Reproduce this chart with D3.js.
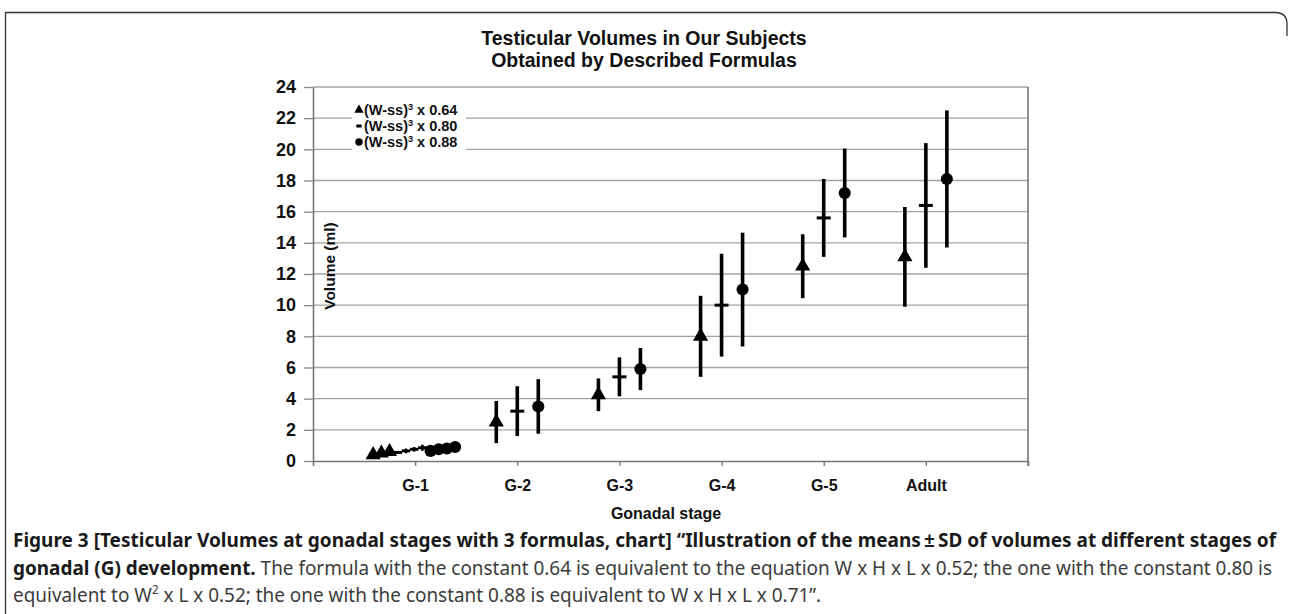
<!DOCTYPE html>
<html>
<head>
<meta charset="utf-8">
<script src="https://cdn.jsdelivr.net/npm/d3@7/dist/d3.min.js"></script>
<style>
  body { margin: 0; background: #fff; }
  .chart text { font-family: "Liberation Sans", Arial, sans-serif; }
  .caption text { font-family: "Noto Sans", "Open Sans", sans-serif; }
</style>
</head>
<body>
<div id="chart"></div>
<script>
// Stages on the x axis
var stages = ["G-1", "G-2", "G-3", "G-4", "G-5", "Adult"];
var formulas = ["0.64", "0.80", "0.88"];
var yTicks = [0, 2, 4, 6, 8, 10, 12, 14, 16, 18, 20, 22, 24];

// Means and SD for G-2 .. Adult, one array per formula
var mean064 = [2.5, 4.25, 8.0, 12.5, 13.1];
var sd064   = [1.35, 1.05, 2.6, 2.05, 3.2];
var mean080 = [3.2, 5.4, 10.0, 15.6, 16.4];
var sd080   = [1.6, 1.25, 3.3, 2.5, 4.0];
var mean088 = [3.5, 5.9, 11.0, 17.2, 18.1];
var sd088   = [1.75, 1.35, 3.65, 2.85, 4.4];

// G-1 is drawn as a row of small points (sub-groups)
var g1Mean064 = [0.4, 0.5, 0.6];
var g1Mean080 = [0.55, 0.65, 0.75, 0.85];
var g1Sd080   = [0.1, 0.15, 0.15, 0.2];
var g1Mean088 = [0.65, 0.75, 0.8, 0.9];

var W = 1292, H = 614;
var svg = d3.select("#chart").append("svg")
    .attr("width", W).attr("height", H);

// outer frame
svg.append("path")
    .attr("d", "M5.5,614 L5.5,12.5 L1275,12.5 Q1287,12.5 1287,24 L1287,36")
    .attr("fill", "none").attr("stroke", "#333").attr("stroke-width", 1.3);

var g = svg.append("g").attr("class", "chart");

var x = d3.scalePoint().domain(stages).range([313, 1028]).padding(1);
var y = d3.scaleLinear().domain([0, 24]).range([461, 87]);
var off = d3.scalePoint().domain(formulas).range([-21, 21]);
var g1Off = d3.scalePoint().domain(d3.range(11)).range([-42, 40]);

// gridlines
g.append("g").selectAll("line")
    .data(yTicks.filter(function(d){ return d > 0; }))
    .enter().append("line")
    .attr("x1", 313).attr("x2", 1028)
    .attr("y1", function(d){ return y(d); })
    .attr("y2", function(d){ return y(d); })
    .attr("stroke", "#a3a3a3").attr("stroke-width", 1.3);

// y axis
var yAxis = g.append("g")
    .attr("transform", "translate(313,0)")
    .call(d3.axisLeft(y).tickValues(yTicks).tickSize(9).tickSizeOuter(0).tickPadding(8));
yAxis.select(".domain").attr("stroke", "#777").attr("stroke-width", 1.6);
yAxis.selectAll(".tick line").attr("stroke", "#888").attr("stroke-width", 1.3);
yAxis.selectAll("text").style("font-size", "18px").style("font-weight", "bold").attr("fill", "#111");

// right border
g.append("line")
    .attr("x1", 1028).attr("x2", 1028).attr("y1", y(24)).attr("y2", y(0) + 5)
    .attr("stroke", "#777").attr("stroke-width", 1.6);

// x axis
var xAxis = g.append("g")
    .attr("transform", "translate(0,461)")
    .call(d3.axisBottom(x).tickSize(5).tickSizeOuter(5).tickPadding(14));
xAxis.select(".domain").attr("stroke", "#777").attr("stroke-width", 1.6);
xAxis.selectAll(".tick line").attr("stroke", "#777").attr("stroke-width", 1.3);
xAxis.selectAll("text").style("font-size", "16px").style("font-weight", "bold").attr("fill", "#111");

// markers
var tri = d3.symbol().type(d3.symbolTriangle);
var circ = d3.symbol().type(d3.symbolCircle);

function drawSeries(means, sds, key) {
    var rows = means.map(function(m, i) {
        return { stage: stages[i + 1], mean: m, sd: sds[i] };
    });
    var s = g.append("g");
    s.selectAll(".err").data(rows).enter().append("line")
        .attr("x1", function(d){ return x(d.stage) + off(key); })
        .attr("x2", function(d){ return x(d.stage) + off(key); })
        .attr("y1", function(d){ return y(d.mean + d.sd); })
        .attr("y2", function(d){ return y(d.mean - d.sd); })
        .attr("stroke", "#000").attr("stroke-width", 3.6);
    drawMarks(s, rows.map(function(d){ return { cx: x(d.stage) + off(key), cy: y(d.mean) }; }), key, 1);
}

function drawMarks(sel, pts, key, k) {
    if (key === "0.64") {
        sel.selectAll(".m").data(pts).enter().append("path")
            .attr("d", tri.size(100 * k))
            .attr("transform", function(d){ return "translate(" + d.cx + "," + d.cy + ")"; })
            .attr("fill", "#000");
    } else if (key === "0.80") {
        sel.selectAll(".m").data(pts).enter().append("line")
            .attr("x1", function(d){ return d.cx - 7 * k; })
            .attr("x2", function(d){ return d.cx + 7 * k; })
            .attr("y1", function(d){ return d.cy; })
            .attr("y2", function(d){ return d.cy; })
            .attr("stroke", "#000").attr("stroke-width", 3);
    } else {
        sel.selectAll(".m").data(pts).enter().append("path")
            .attr("d", circ.size(115 * k))
            .attr("transform", function(d){ return "translate(" + d.cx + "," + d.cy + ")"; })
            .attr("fill", "#000");
    }
}

drawSeries(mean064, sd064, "0.64");
drawSeries(mean080, sd080, "0.80");
drawSeries(mean088, sd088, "0.88");

// G-1 row
var g1 = g.append("g");
var x1 = x("G-1");
drawMarks(g1.append("g"), g1Mean064.map(function(m, i){ return { cx: x1 + g1Off(i), cy: y(m) }; }), "0.64", 1);
var g1d = g1.append("g");
g1d.selectAll("line.e").data(g1Mean080).enter().append("line")
    .attr("class", "e")
    .attr("x1", function(d, i){ return x1 + g1Off(i + 3); })
    .attr("x2", function(d, i){ return x1 + g1Off(i + 3); })
    .attr("y1", function(d, i){ return y(d + g1Sd080[i]); })
    .attr("y2", function(d, i){ return y(d - g1Sd080[i]); })
    .attr("stroke", "#000").attr("stroke-width", 2.5);
drawMarks(g1d, g1Mean080.map(function(m, i){ return { cx: x1 + g1Off(i + 3), cy: y(m) }; }), "0.80", 0.6);
drawMarks(g1.append("g"), g1Mean088.map(function(m, i){ return { cx: x1 + g1Off(i + 7), cy: y(m) }; }), "0.88", 1);

// legend
var lg = g.append("g").attr("transform", "translate(352,100)");
lg.append("rect").attr("width", 114).attr("height", 54).attr("fill", "#fff");
formulas.forEach(function(f, i) {
    var ly = 10 + i * 16;
    drawMarks(lg.append("g"), [{ cx: 7, cy: ly }], f, 0.38);
    var t = lg.append("text").attr("x", 12).attr("y", ly + 5)
        .style("font-size", "14.5px").style("font-weight", "bold").attr("fill", "#111");
    t.append("tspan").text("(W-ss)");
    t.append("tspan").attr("dy", -5).style("font-size", "9px").text("3");
    t.append("tspan").attr("dy", 5).text(" x " + f);
});

// titles
g.append("text").attr("x", 644).attr("y", 45).attr("text-anchor", "middle")
    .style("font-size", "19.5px").style("font-weight", "bold").attr("fill", "#111")
    .text("Testicular Volumes in Our Subjects");
g.append("text").attr("x", 644).attr("y", 67).attr("text-anchor", "middle")
    .style("font-size", "19.5px").style("font-weight", "bold").attr("fill", "#111")
    .text("Obtained by Described Formulas");
g.append("text").attr("transform", "translate(335,266) rotate(-90)").attr("text-anchor", "middle")
    .style("font-size", "15.5px").style("font-weight", "bold").attr("fill", "#111")
    .text("Volume (ml)");
g.append("text").attr("x", 666).attr("y", 519).attr("text-anchor", "middle")
    .style("font-size", "16px").style("font-weight", "bold").attr("fill", "#111")
    .text("Gonadal stage");

// caption
var cap = svg.append("g").attr("class", "caption");
var c1 = cap.append("text").attr("x", 13).attr("y", 547).attr("textLength", 1263)
    .attr("lengthAdjust", "spacingAndGlyphs")
    .style("font-size", "19.5px").style("font-weight", "bold").attr("fill", "#1a1a1a");
c1.text("Figure 3 [Testicular Volumes at gonadal stages with 3 formulas, chart] \u201cIllustration of the means\u2009\u00b1\u2009SD of volumes at different stages of");
var c2 = cap.append("text").attr("x", 13).attr("y", 575)
    .style("font-size", "19.5px").attr("fill", "#3c3c3c");
c2.append("tspan").style("font-weight", "bold").attr("fill", "#1a1a1a").text("gonadal (G) development.");
c2.append("tspan").text(" The formula with the constant 0.64 is equivalent to the equation W x H x L x 0.52; the one with the constant 0.80 is");
var c3 = cap.append("text").attr("x", 13).attr("y", 602)
    .style("font-size", "19.5px").attr("fill", "#3c3c3c");
c3.append("tspan").text("equivalent to W");
c3.append("tspan").attr("dy", -8).style("font-size", "12px").text("2");
c3.append("tspan").attr("dy", 8).text(" x L x 0.52; the one with the constant 0.88 is equivalent to W x H x L x 0.71\u201d.");

// same horizontal squeeze for lines 2 and 3 as the justified line 2 needs
var ratio = 1259 / c2.node().getComputedTextLength();
c2.attr("textLength", 1259).attr("lengthAdjust", "spacingAndGlyphs");
c3.attr("textLength", c3.node().getComputedTextLength() * ratio).attr("lengthAdjust", "spacingAndGlyphs");
</script>
</body>
</html>
